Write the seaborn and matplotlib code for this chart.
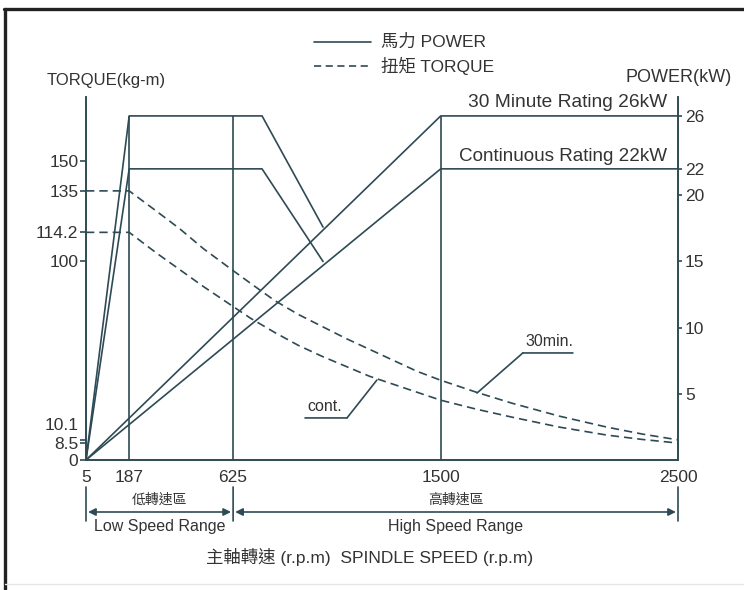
import matplotlib
matplotlib.use('Agg')
import matplotlib.pyplot as plt
import matplotlib.transforms as mtrans
import seaborn as sns
from matplotlib.lines import Line2D

# spindle speed (rpm) ticks and range boundaries
rpm_ticks = [5, 187, 625, 1500, 2500]
range_bounds = [5, 625, 2500]
guide_rpm = [187, 625, 1500]
guide_power = 26

# torque curves (kg-m)
torque_rpm = [5, 187, 300, 400, 500, 625, 700, 800, 900, 1000, 1100, 1200,
              1300, 1400, 1500, 1650, 1800, 2000, 2200, 2350, 2500]
torque_30min = [135, 135, 125, 116, 106, 95, 88.5, 80, 73, 67, 61, 55.5,
                50, 44.5, 40, 34, 28.5, 22, 16.5, 13, 10.1]
torque_cont = [114.2, 114.2, 104, 95.5, 87, 77, 71, 64, 57.5, 52, 47, 42,
               38, 34, 30, 25.5, 21.5, 16.5, 12.5, 10.3, 8.5]

# power curves (kW)
low_rpm = [5, 187, 747, 1004]
low_30min = [0, 26, 26, 17.6]
low_cont = [0, 22, 22, 15]
high_rpm = [5, 1500, 2500]
high_30min = [0, 26, 26]
high_cont = [0, 22, 22]

torque_ticks = [0, 8.5, 10.1, 100, 114.2, 135, 150]
torque_labels = ['0', '8.5', '10.1', '100', '114.2', '135', '150']
power_ticks = [5, 10, 15, 20, 22, 26]

LINE = '#2e4a54'
TEXT = '#333333'

sns.set_style('white')
plt.rcParams['font.family'] = ['Liberation Sans', 'Noto Sans CJK TC', 'DejaVu Sans']
plt.rcParams['axes.unicode_minus'] = False

W, H = 744, 590
fig = plt.figure(figsize=(W / 100, H / 100), dpi=100)
ax = fig.add_axes([86 / W, 1 - 460 / H, (678 - 86) / W, (460 - 97) / H])
ax2 = ax.twinx()

lw = 1.2
dash = (0, (5, 3))

# torque (dashed)
sns.lineplot(x=torque_rpm, y=torque_30min, ax=ax, color=LINE, lw=lw, linestyle=dash)
sns.lineplot(x=torque_rpm, y=torque_cont, ax=ax, color=LINE, lw=lw, linestyle=dash)

# power (solid)
for xs, ys in [(low_rpm, low_30min), (low_rpm, low_cont),
               (high_rpm, high_30min), (high_rpm, high_cont)]:
    sns.lineplot(x=xs, y=ys, ax=ax2, color=LINE, lw=lw)
ax2.vlines(guide_rpm, 0, guide_power, color=LINE, lw=lw)

ax.set_xlim(5, 2500)
ax.set_ylim(0, 182.1)
ax2.set_ylim(0, 27.43)

for a in (ax, ax2):
    a.spines['top'].set_visible(False)
    for s in ('left', 'right', 'bottom'):
        a.spines[s].set_color(LINE)
        a.spines[s].set_linewidth(lw)
    a.set_xlabel('')
    a.set_ylabel('')

ax.set_xticks(rpm_ticks)
ax.set_xticklabels([str(v) for v in rpm_ticks])
ax.tick_params(axis='x', length=0, pad=7, labelsize=12.5, labelcolor=TEXT)
ax.set_yticks(torque_ticks)
ax.set_yticklabels(torque_labels)
ax.tick_params(axis='y', length=4, width=lw, color=LINE, pad=1.5,
               labelsize=12.5, labelcolor=TEXT)
ax2.set_yticks(power_ticks)
ax2.set_yticklabels([str(v) for v in power_ticks])
ax2.tick_params(axis='y', length=3, width=lw, color=LINE, pad=2,
                labelsize=12.5, labelcolor=TEXT)

# nudge the crowded 10.1 label upward
for lab in ax.get_yticklabels():
    if lab.get_text() == '10.1':
        lab.set_transform(lab.get_transform() +
                          mtrans.ScaledTranslation(0, 16 / 100, fig.dpi_scale_trans))

# axis titles
fig.text(47 / W, 1 - 81 / H, 'TORQUE(kg-m)', ha='left', va='center', fontsize=12, color=TEXT)
fig.text(732 / W, 1 - 78 / H, 'POWER(kW)', ha='right', va='center', fontsize=13, color=TEXT)

# rating labels
ax2.text(2455, 27.0, '30 Minute Rating 26kW', ha='right', va='center', fontsize=13.8, color=TEXT)
ax2.text(2455, 22.9, 'Continuous Rating 22kW', ha='right', va='center', fontsize=13.6, color=TEXT)

# curve call-outs
ax.annotate('', xy=(1653, 33.6), xytext=(1846, 53.7),
            arrowprops=dict(arrowstyle='-', color=LINE, lw=lw, shrinkA=0, shrinkB=0))
ax.annotate('', xy=(1846, 53.7), xytext=(2057, 53.7),
            arrowprops=dict(arrowstyle='-', color=LINE, lw=lw, shrinkA=0, shrinkB=0))
ax.text(1958, 55.5, '30min.', ha='center', va='bottom', fontsize=11.5, color=TEXT)
ax.annotate('', xy=(1231, 40.1), xytext=(1105, 21.1),
            arrowprops=dict(arrowstyle='-', color=LINE, lw=lw, shrinkA=0, shrinkB=0))
ax.annotate('', xy=(928, 21.1), xytext=(1105, 21.1),
            arrowprops=dict(arrowstyle='-', color=LINE, lw=lw, shrinkA=0, shrinkB=0))
ax.text(1012, 22.9, 'cont.', ha='center', va='bottom', fontsize=11.5, color=TEXT)

# speed range arrows below the axis
yc = ('data', 'axes fraction')
y_arrow = (460 - 512) / 363
for b in range_bounds:
    ax.annotate('', xy=(b, (460 - 487) / 363), xytext=(b, (460 - 521) / 363),
                xycoords=yc, textcoords=yc, annotation_clip=False,
                arrowprops=dict(arrowstyle='-', color=LINE, lw=lw, shrinkA=0, shrinkB=0))
range_cn = ['低轉速區', '高轉速區']
range_en = ['Low Speed Range', 'High Speed Range']
for i in range(2):
    x0, x1 = range_bounds[i], range_bounds[i + 1]
    ax.annotate('', xy=(x0, y_arrow), xytext=(x1, y_arrow), xycoords=yc, textcoords=yc,
                annotation_clip=False,
                arrowprops=dict(arrowstyle='<|-|>', color=LINE, lw=lw, shrinkA=1.5,
                                shrinkB=1.5, mutation_scale=11))
    xm = (x0 + x1) / 2
    ax.annotate(range_cn[i], xy=(xm, (460 - 500) / 363), xycoords=yc, ha='center',
                va='center', fontsize=10, color=TEXT, annotation_clip=False)
    ax.annotate(range_en[i], xy=(xm, (460 - 527) / 363), xycoords=yc, ha='center',
                va='center', fontsize=11.5, color=TEXT, annotation_clip=False)

fig.text(370 / W, 1 - 557 / H, '主軸轉速 (r.p.m)  SPINDLE SPEED (r.p.m)', ha='center',
         va='center', fontsize=12.5, color=TEXT)

# legend drawn by hand at the top
fig.add_artist(Line2D([314 / W, 371 / W], [1 - 42 / H] * 2, transform=fig.transFigure,
                      color=LINE, lw=lw))
fig.add_artist(Line2D([314 / W, 371 / W], [1 - 66 / H] * 2, transform=fig.transFigure,
                      color=LINE, lw=lw, linestyle=(0, (4.3, 2.7))))
fig.text(381 / W, 1 - 42 / H, '馬力 POWER', ha='left', va='center', fontsize=12.5, color=TEXT)
fig.text(381 / W, 1 - 66 / H, '扭矩 TORQUE', ha='left', va='center', fontsize=12.5, color=TEXT)

# outer frame
fig.add_artist(Line2D([4 / W, 1], [1 - 9 / H] * 2, transform=fig.transFigure, color='#222222', lw=2.4))
fig.add_artist(Line2D([5 / W] * 2, [0, 1 - 9 / H], transform=fig.transFigure, color='#222222', lw=2.4))
fig.add_artist(Line2D([5 / W, 1], [1 - 584 / H] * 2, transform=fig.transFigure, color='#e6e6e6', lw=1))

fig.savefig('out.png', dpi=100)
plt.close(fig)
